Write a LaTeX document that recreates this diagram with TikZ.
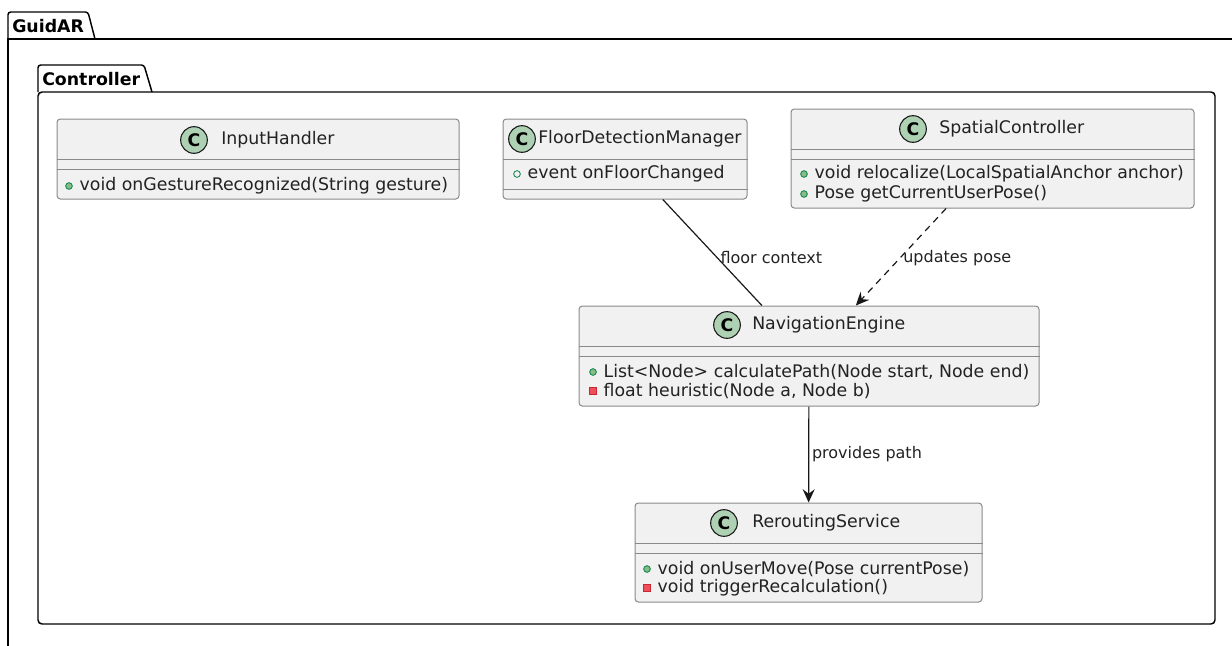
\documentclass[tikz,border=0pt]{standalone}
\usepackage{fontspec}
\setmainfont{DejaVu Sans}
\usetikzlibrary{positioning,fit,arrows.meta}
\definecolor{boxfill}{HTML}{F1F1F1}
\definecolor{boxline}{HTML}{8A8A8A}
\definecolor{iconfill}{HTML}{ADD1B2}
\definecolor{iconline}{HTML}{181818}
\definecolor{pubfill}{HTML}{84BE84}
\definecolor{publine}{HTML}{038048}
\definecolor{privfill}{HTML}{F24D5C}
\definecolor{privline}{HTML}{C82930}
\definecolor{linkcol}{HTML}{181818}
\definecolor{textcol}{HTML}{222222}

\begin{document}
\begin{tikzpicture}
        [
          x=0.75pt, y=-0.75pt,
          every node/.style={inner sep=0pt, text=textcol, font=\fontsize{13}{15}\selectfont},
          classbox/.style={draw=boxline, fill=boxfill, rounded corners=2.5pt, line width=0.75pt},
          sep/.style={draw=boxline, line width=0.75pt},
          cicon/.style={circle, draw=iconline, fill=iconfill, minimum size=20pt, line width=0.8pt,
                        text=black, font=\fontsize{13}{15}\selectfont\bfseries},
          ctitle/.style={anchor=west},
          pubmeth/.style={circle, draw=publine, fill=pubfill, minimum size=5pt, line width=0.6pt},
          pubfield/.style={circle, draw=publine, minimum size=5pt, line width=0.6pt},
          privmeth/.style={rectangle, draw=privline, fill=privfill, minimum size=5pt, line width=0.6pt},
          member/.style={anchor=west},
          pkg/.style={draw=black, line width=1.1pt},
          pkglabel/.style={anchor=west, text=black, font=\fontsize{13}{15}\selectfont\bfseries},
          link/.style={draw=linkcol, line width=0.9pt},
          tip/.style={-{Stealth[length=10pt, width=9pt, inset=3.5pt]}},
          lbl/.style={font=\fontsize{12}{14}\selectfont, inner sep=2pt}
        ]

        \useasboundingbox (0,0) rectangle (1232,646);
        \clip (0,0) rectangle (1232,646);

        % packages
        \draw[pkg] (8,680) -- (8,39) -- (1260,39);
        \draw[pkg, rounded corners=2pt] (8,39) -- (8,12) -- (88,12) -- (95,39);
        \node[pkglabel] (guidar) at (12,26) {GuidAR};

        \draw[pkg, rounded corners=3pt] (38,92) rectangle (1215,624);
        \draw[pkg, rounded corners=2pt] (38,92) -- (38,65) -- (144,65) -- (152,92);
        \node[pkglabel] (controller) at (42,79) {Controller};

        % InputHandler
        \node[classbox, fit={(57,119) (459,199)}] (input) {};
        \draw[sep] (input.west |- 0,159) -- (input.east |- 0,159);
        \draw[sep] (input.west |- 0,169) -- (input.east |- 0,169);
        \node[cicon] (inputC) at (194,140) {C};
        \node[ctitle] (inputT) at (221,140) {InputHandler};
        \node[pubmeth] (inputm1) at (69,186) {};
        \node[member, right=5pt of inputm1] (inputt1) {void onGestureRecognized(String gesture)};

        % FloorDetectionManager
        \node[classbox, fit={(503,119) (747,199)}] (floor) {};
        \draw[sep] (floor.west |- 0,159) -- (floor.east |- 0,159);
        \draw[sep] (floor.west |- 0,189) -- (floor.east |- 0,189);
        \node[cicon] (floorC) at (522,139) {C};
        \node[ctitle] (floorT) at (538,139) {FloorDetectionManager};
        \node[pubfield] (floorf1) at (517,174) {};
        \node[member, right=5pt of floorf1] (floort1) {event onFloorChanged};

        % SpatialController
        \node[classbox, fit={(791,109) (1194,208)}] (spatial) {};
        \draw[sep] (spatial.west |- 0,149) -- (spatial.east |- 0,149);
        \draw[sep] (spatial.west |- 0,159) -- (spatial.east |- 0,159);
        \node[cicon] (spatialC) at (913,129) {C};
        \node[ctitle] (spatialT) at (939,129) {SpatialController};
        \node[pubmeth] (spatialm1) at (804,174) {};
        \node[member, right=5pt of spatialm1] (spatialt1) {void relocalize(LocalSpatialAnchor anchor)};
        \node[pubmeth] (spatialm2) at (804,194) {};
        \node[member, right=5pt of spatialm2] (spatialt2) {Pose getCurrentUserPose()};

        % NavigationEngine
        \node[classbox, fit={(579,306) (1039,406)}] (nav) {};
        \draw[sep] (nav.west |- 0,346) -- (nav.east |- 0,346);
        \draw[sep] (nav.west |- 0,356) -- (nav.east |- 0,356);
        \node[cicon] (navC) at (727,325) {C};
        \node[ctitle] (navT) at (752,325) {NavigationEngine};
        \node[pubmeth] (navm1) at (593,372) {};
        \node[member, right=5pt of navm1] (navt1) {List<Node> calculatePath(Node start, Node end)};
        \node[privmeth] (navm2) at (593,391) {};
        \node[member, right=5pt of navm2] (navt2) {float heuristic(Node a, Node b)};

        % ReroutingService
        \node[classbox, fit={(635,503) (982,602)}] (reroute) {};
        \draw[sep] (reroute.west |- 0,543) -- (reroute.east |- 0,543);
        \draw[sep] (reroute.west |- 0,553) -- (reroute.east |- 0,553);
        \node[cicon] (rerouteC) at (724,523) {C};
        \node[ctitle] (rerouteT) at (752,523) {ReroutingService};
        \node[pubmeth] (reroutem1) at (647,569) {};
        \node[member, right=5pt of reroutem1] (reroutet1) {void onUserMove(Pose currentPose)};
        \node[privmeth] (reroutem2) at (647,588) {};
        \node[member, right=5pt of reroutem2] (reroutet2) {void triggerRecalculation()};

        % relations
        \draw[link] (floor) -- node[lbl, right, pos=0.55] {floor context} (nav);
        \draw[link, dash pattern=on 5pt off 4pt, tip]
          (spatial) -- node[lbl, right, pos=0.51] {updates pose} (nav);
        \draw[link, tip]
          (nav) -- node[lbl, right, pos=0.5] {provides path} (reroute);
    \end{tikzpicture}
\end{document}
